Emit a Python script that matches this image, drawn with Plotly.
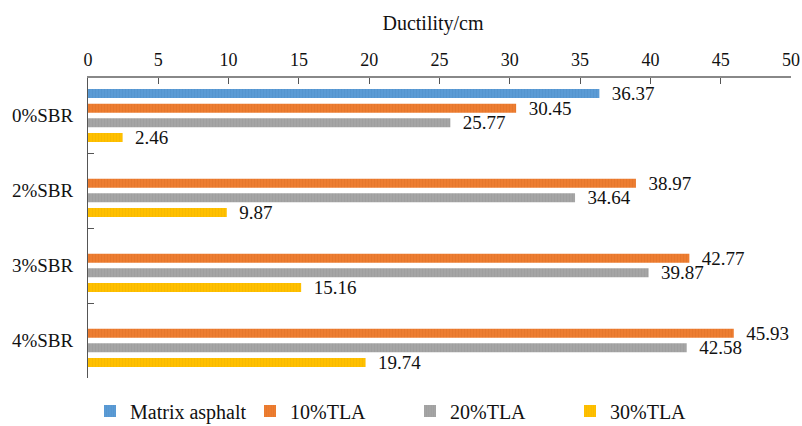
import plotly.graph_objects as go

categories = ["0%SBR", "2%SBR", "3%SBR", "4%SBR"]
series_names = ["Matrix asphalt", "10%TLA", "20%TLA", "30%TLA"]
matrix_asphalt = [36.37, None, None, None]
tla_10 = [30.45, 38.97, 42.77, 45.93]
tla_20 = [25.77, 34.64, 39.87, 42.58]
tla_30 = [2.46, 9.87, 15.16, 19.74]
x_ticks = [0, 5, 10, 15, 20, 25, 30, 35, 40, 45, 50]

SERIF = "Liberation Serif"
colors = ["#5B9BD5", "#ED7D31", "#A5A5A5", "#FFC000"]
stripe = ["#4a8ac4", "#d96c22", "#959595", "#ecb000"]

fig = go.Figure()
for name, vals, c, s in zip(series_names, [matrix_asphalt, tla_10, tla_20, tla_30], colors, stripe):
    fig.add_trace(go.Bar(
        y=categories, x=vals, name=name, orientation="h",
        marker=dict(color=c, line=dict(width=0),
                    pattern=dict(shape="|", bgcolor=c, fgcolor=s, size=3, solidity=0.25)),
        # small non-breaking lead-in keeps the value a little clear of the bar end
        text=["\u00a0\u00a0" + f"{v:.2f}" if v is not None else "" for v in vals],
        textposition="outside", cliponaxis=False, constraintext="none",
        textfont=dict(family=SERIF, size=19, color="#111111"),
    ))

fig.update_layout(
    width=802, height=426,
    margin=dict(l=88, r=11, t=78, b=48, autoexpand=False),
    paper_bgcolor="white", plot_bgcolor="white",
    barmode="group", bargap=0.22, bargroupgap=0.38,
    font=dict(family=SERIF, size=19, color="#111111"),
    title=dict(text="Ductility/cm", xref="container", x=433 / 802, xanchor="center",
               y=1 - 23 / 426, yanchor="middle",
               font=dict(family=SERIF, size=20, color="#111111")),
    xaxis=dict(side="top", range=[0, 50], tickvals=x_ticks, ticks="inside", ticklen=6,
               tickcolor="#555555", showline=True, linecolor="#888888", linewidth=1.5,
               showgrid=False, zeroline=False, ticklabelstandoff=3,
               tickfont=dict(family=SERIF, size=18)),
    yaxis=dict(autorange="reversed", ticks="inside", tickson="boundaries", ticklen=6,
               tickcolor="#555555", showline=True, linecolor="#555555", linewidth=1,
               showgrid=False, ticklabelstandoff=10,
               tickfont=dict(family=SERIF, size=19)),
    legend=dict(orientation="h", xref="container", x=90 / 802, xanchor="left",
                yref="container", y=15 / 426, yanchor="middle",
                entrywidth=115, entrywidthmode="pixels", traceorder="normal",
                font=dict(family=SERIF, size=20)),
)

fig.write_html("out.html")
